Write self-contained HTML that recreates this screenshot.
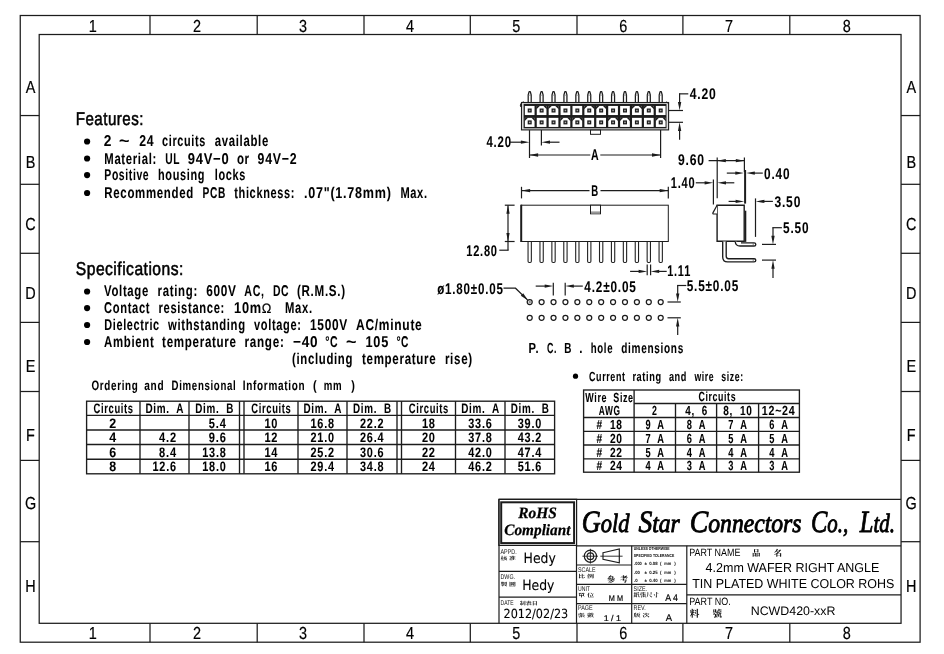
<!DOCTYPE html>
<html lang="en">
<head>
<meta charset="utf-8">
<title>NCWD420-xxR 4.2mm Wafer Right Angle</title>
<style>
html,body{margin:0;padding:0;background:#fff;}
body{width:944px;height:654px;overflow:hidden;}
svg{display:block;}
text{fill:#000;white-space:pre;text-rendering:geometricPrecision;}
.cad{font-family:"Liberation Sans",sans-serif;font-weight:bold;stroke:#000;stroke-width:0.06px;word-spacing:0.35em;letter-spacing:0.06em;}
.cadh{font-family:"Liberation Sans",sans-serif;stroke:#000;stroke-width:0.55px;letter-spacing:0.03em;}
.cadb{font-family:"Liberation Sans",sans-serif;font-weight:bold;stroke:#000;stroke-width:0.06px;word-spacing:0.35em;letter-spacing:0.07em;}
.lab{font-family:"Liberation Sans",sans-serif;stroke:#000;stroke-width:0.2px;}
.ar{font-family:"Liberation Sans",sans-serif;}
.sm{font-family:"Liberation Sans",sans-serif;fill:#111;}
.tiny{font-family:"Liberation Sans",sans-serif;font-weight:bold;fill:#000;}
.hand{font-family:"DejaVu Sans","Liberation Sans",sans-serif;stroke:#000;stroke-width:0.1px;}
.rohs{font-family:"Liberation Serif",serif;font-weight:bold;font-style:italic;stroke:#000;stroke-width:0.25px;}
.co{font-family:"Liberation Serif",serif;font-style:italic;font-size:26.5px;stroke:#000;stroke-width:0.9px;stroke-linejoin:round;}
.cjk2{font-family:"Liberation Serif","Noto Serif CJK SC","Noto Sans CJK TC",serif;fill:#000;font-weight:bold;}
.cjk{font-family:"Liberation Serif","Noto Serif CJK SC","Noto Sans CJK TC",serif;fill:#111;font-weight:bold;}
</style>
</head>
<body>
<svg width="944" height="654" viewBox="0 0 944 654" style="filter:grayscale(1)">
<rect x="0" y="0" width="944" height="654" fill="#fff"/>
<rect x="20.25" y="15.50" width="899.85" height="626.70" fill="none" stroke="#1c1c1c" stroke-width="1.25"/>
<rect x="39.20" y="34.50" width="861.85" height="588.80" fill="none" stroke="#1c1c1c" stroke-width="1.25"/>
<line x1="150.00" y1="15.50" x2="150.00" y2="34.50" stroke="#1c1c1c" stroke-width="1.25" />
<line x1="150.00" y1="623.30" x2="150.00" y2="642.20" stroke="#1c1c1c" stroke-width="1.25" />
<line x1="257.20" y1="15.50" x2="257.20" y2="34.50" stroke="#1c1c1c" stroke-width="1.25" />
<line x1="257.20" y1="623.30" x2="257.20" y2="642.20" stroke="#1c1c1c" stroke-width="1.25" />
<line x1="364.00" y1="15.50" x2="364.00" y2="34.50" stroke="#1c1c1c" stroke-width="1.25" />
<line x1="364.00" y1="623.30" x2="364.00" y2="642.20" stroke="#1c1c1c" stroke-width="1.25" />
<line x1="470.30" y1="15.50" x2="470.30" y2="34.50" stroke="#1c1c1c" stroke-width="1.25" />
<line x1="470.30" y1="623.30" x2="470.30" y2="642.20" stroke="#1c1c1c" stroke-width="1.25" />
<line x1="577.00" y1="15.50" x2="577.00" y2="34.50" stroke="#1c1c1c" stroke-width="1.25" />
<line x1="577.00" y1="623.30" x2="577.00" y2="642.20" stroke="#1c1c1c" stroke-width="1.25" />
<line x1="682.90" y1="15.50" x2="682.90" y2="34.50" stroke="#1c1c1c" stroke-width="1.25" />
<line x1="682.90" y1="623.30" x2="682.90" y2="642.20" stroke="#1c1c1c" stroke-width="1.25" />
<line x1="789.80" y1="15.50" x2="789.80" y2="34.50" stroke="#1c1c1c" stroke-width="1.25" />
<line x1="789.80" y1="623.30" x2="789.80" y2="642.20" stroke="#1c1c1c" stroke-width="1.25" />
<line x1="20.25" y1="115.55" x2="39.20" y2="115.55" stroke="#1c1c1c" stroke-width="1.25" />
<line x1="901.05" y1="115.55" x2="920.10" y2="115.55" stroke="#1c1c1c" stroke-width="1.25" />
<line x1="20.25" y1="184.30" x2="39.20" y2="184.30" stroke="#1c1c1c" stroke-width="1.25" />
<line x1="901.05" y1="184.30" x2="920.10" y2="184.30" stroke="#1c1c1c" stroke-width="1.25" />
<line x1="20.25" y1="253.30" x2="39.20" y2="253.30" stroke="#1c1c1c" stroke-width="1.25" />
<line x1="901.05" y1="253.30" x2="920.10" y2="253.30" stroke="#1c1c1c" stroke-width="1.25" />
<line x1="20.25" y1="322.40" x2="39.20" y2="322.40" stroke="#1c1c1c" stroke-width="1.25" />
<line x1="901.05" y1="322.40" x2="920.10" y2="322.40" stroke="#1c1c1c" stroke-width="1.25" />
<line x1="20.25" y1="391.50" x2="39.20" y2="391.50" stroke="#1c1c1c" stroke-width="1.25" />
<line x1="901.05" y1="391.50" x2="920.10" y2="391.50" stroke="#1c1c1c" stroke-width="1.25" />
<line x1="20.25" y1="460.40" x2="39.20" y2="460.40" stroke="#1c1c1c" stroke-width="1.25" />
<line x1="901.05" y1="460.40" x2="920.10" y2="460.40" stroke="#1c1c1c" stroke-width="1.25" />
<line x1="20.25" y1="541.70" x2="39.20" y2="541.70" stroke="#1c1c1c" stroke-width="1.25" />
<line x1="901.05" y1="541.70" x2="920.10" y2="541.70" stroke="#1c1c1c" stroke-width="1.25" />
<text class="lab" transform="translate(92.80,31.80) scale(0.83,1)" font-size="17.4" text-anchor="middle" >1</text>
<text class="lab" transform="translate(92.80,638.70) scale(0.83,1)" font-size="17.4" text-anchor="middle" >1</text>
<text class="lab" transform="translate(197.00,31.80) scale(0.83,1)" font-size="17.4" text-anchor="middle" >2</text>
<text class="lab" transform="translate(197.00,638.70) scale(0.83,1)" font-size="17.4" text-anchor="middle" >2</text>
<text class="lab" transform="translate(303.00,31.80) scale(0.83,1)" font-size="17.4" text-anchor="middle" >3</text>
<text class="lab" transform="translate(303.00,638.70) scale(0.83,1)" font-size="17.4" text-anchor="middle" >3</text>
<text class="lab" transform="translate(410.00,31.80) scale(0.83,1)" font-size="17.4" text-anchor="middle" >4</text>
<text class="lab" transform="translate(410.00,638.70) scale(0.83,1)" font-size="17.4" text-anchor="middle" >4</text>
<text class="lab" transform="translate(516.30,31.80) scale(0.83,1)" font-size="17.4" text-anchor="middle" >5</text>
<text class="lab" transform="translate(516.30,638.70) scale(0.83,1)" font-size="17.4" text-anchor="middle" >5</text>
<text class="lab" transform="translate(623.30,31.80) scale(0.83,1)" font-size="17.4" text-anchor="middle" >6</text>
<text class="lab" transform="translate(623.30,638.70) scale(0.83,1)" font-size="17.4" text-anchor="middle" >6</text>
<text class="lab" transform="translate(729.00,31.80) scale(0.83,1)" font-size="17.4" text-anchor="middle" >7</text>
<text class="lab" transform="translate(729.00,638.70) scale(0.83,1)" font-size="17.4" text-anchor="middle" >7</text>
<text class="lab" transform="translate(846.80,31.80) scale(0.83,1)" font-size="17.4" text-anchor="middle" >8</text>
<text class="lab" transform="translate(846.80,638.70) scale(0.83,1)" font-size="17.4" text-anchor="middle" >8</text>
<text class="lab" transform="translate(30.50,92.70) scale(0.83,1)" font-size="17.4" text-anchor="middle" >A</text>
<text class="lab" transform="translate(911.20,92.70) scale(0.83,1)" font-size="17.4" text-anchor="middle" >A</text>
<text class="lab" transform="translate(30.50,168.30) scale(0.83,1)" font-size="17.4" text-anchor="middle" >B</text>
<text class="lab" transform="translate(911.20,168.30) scale(0.83,1)" font-size="17.4" text-anchor="middle" >B</text>
<text class="lab" transform="translate(30.50,230.00) scale(0.83,1)" font-size="17.4" text-anchor="middle" >C</text>
<text class="lab" transform="translate(911.20,230.00) scale(0.83,1)" font-size="17.4" text-anchor="middle" >C</text>
<text class="lab" transform="translate(30.50,298.80) scale(0.83,1)" font-size="17.4" text-anchor="middle" >D</text>
<text class="lab" transform="translate(911.20,298.80) scale(0.83,1)" font-size="17.4" text-anchor="middle" >D</text>
<text class="lab" transform="translate(30.50,372.20) scale(0.83,1)" font-size="17.4" text-anchor="middle" >E</text>
<text class="lab" transform="translate(911.20,372.20) scale(0.83,1)" font-size="17.4" text-anchor="middle" >E</text>
<text class="lab" transform="translate(30.50,441.20) scale(0.83,1)" font-size="17.4" text-anchor="middle" >F</text>
<text class="lab" transform="translate(911.20,441.20) scale(0.83,1)" font-size="17.4" text-anchor="middle" >F</text>
<text class="lab" transform="translate(30.50,509.30) scale(0.83,1)" font-size="17.4" text-anchor="middle" >G</text>
<text class="lab" transform="translate(911.20,509.30) scale(0.83,1)" font-size="17.4" text-anchor="middle" >G</text>
<text class="lab" transform="translate(30.50,591.90) scale(0.83,1)" font-size="17.4" text-anchor="middle" >H</text>
<text class="lab" transform="translate(911.20,591.90) scale(0.83,1)" font-size="17.4" text-anchor="middle" >H</text>
<text class="cadh" x="75.80" y="125.00" font-size="18.6" textLength="68.02" lengthAdjust="spacingAndGlyphs" >Features:</text>
<text class="cad" y="146.20" font-size="15.6"><tspan x="103.78" textLength="8.46" lengthAdjust="spacingAndGlyphs">2</tspan> <tspan x="119.06" textLength="11.55" lengthAdjust="spacingAndGlyphs">~</tspan> <tspan x="139.30" textLength="15.10" lengthAdjust="spacingAndGlyphs">24</tspan> <tspan x="162.10" textLength="43.90" lengthAdjust="spacingAndGlyphs">circuits</tspan> <tspan x="214.70" textLength="54.20" lengthAdjust="spacingAndGlyphs">available</tspan></text>
<text class="cad" y="163.80" font-size="15.6"><tspan x="104.30" textLength="52.60" lengthAdjust="spacingAndGlyphs">Material:</tspan> <tspan x="165.20" textLength="14.70" lengthAdjust="spacingAndGlyphs">UL</tspan> <tspan x="187.70" textLength="41.80" lengthAdjust="spacingAndGlyphs">94V−0</tspan> <tspan x="236.90" textLength="12.90" lengthAdjust="spacingAndGlyphs">or</tspan> <tspan x="257.60" textLength="39.70" lengthAdjust="spacingAndGlyphs">94V−2</tspan></text>
<text class="cad" y="180.20" font-size="15.6"><tspan x="104.30" textLength="45.00" lengthAdjust="spacingAndGlyphs">Positive</tspan> <tspan x="158.00" textLength="47.10" lengthAdjust="spacingAndGlyphs">housing</tspan> <tspan x="214.70" textLength="31.20" lengthAdjust="spacingAndGlyphs">locks</tspan></text>
<text class="cad" y="198.00" font-size="15.6"><tspan x="104.30" textLength="89.70" lengthAdjust="spacingAndGlyphs">Recommended</tspan> <tspan x="202.60" textLength="23.30" lengthAdjust="spacingAndGlyphs">PCB</tspan> <tspan x="234.20" textLength="61.00" lengthAdjust="spacingAndGlyphs">thickness:</tspan> <tspan x="304.00" textLength="87.60" lengthAdjust="spacingAndGlyphs">.07"(1.78mm)</tspan> <tspan x="400.40" textLength="27.30" lengthAdjust="spacingAndGlyphs">Max.</tspan></text>
<circle cx="87.10" cy="141.50" r="3.10" fill="#000" stroke="none" stroke-width="1"/>
<circle cx="87.10" cy="158.50" r="3.10" fill="#000" stroke="none" stroke-width="1"/>
<circle cx="87.10" cy="175.10" r="3.10" fill="#000" stroke="none" stroke-width="1"/>
<circle cx="87.10" cy="193.00" r="3.10" fill="#000" stroke="none" stroke-width="1"/>
<text class="cadh" x="75.80" y="275.00" font-size="18.6" textLength="108.02" lengthAdjust="spacingAndGlyphs" >Specifications:</text>
<text class="cad" y="296.20" font-size="15.6"><tspan x="104.00" textLength="45.00" lengthAdjust="spacingAndGlyphs">Voltage</tspan> <tspan x="157.60" textLength="40.30" lengthAdjust="spacingAndGlyphs">rating:</tspan> <tspan x="206.20" textLength="30.50" lengthAdjust="spacingAndGlyphs">600V</tspan> <tspan x="244.30" textLength="20.30" lengthAdjust="spacingAndGlyphs">AC,</tspan> <tspan x="272.90" textLength="16.30" lengthAdjust="spacingAndGlyphs">DC</tspan> <tspan x="297.00" textLength="48.70" lengthAdjust="spacingAndGlyphs">(R.M.S.)</tspan></text>
<text class="cad" y="313.20" font-size="15.6"><tspan x="104.00" textLength="46.20" lengthAdjust="spacingAndGlyphs">Contact</tspan> <tspan x="158.50" textLength="66.50" lengthAdjust="spacingAndGlyphs">resistance:</tspan> <tspan x="234.00" textLength="27.90" lengthAdjust="spacingAndGlyphs">10m</tspan> <tspan x="285.00" textLength="27.70" lengthAdjust="spacingAndGlyphs">Max.</tspan></text>
<text class="cad" y="329.70" font-size="15.6"><tspan x="104.30" textLength="55.50" lengthAdjust="spacingAndGlyphs">Dielectric</tspan> <tspan x="168.10" textLength="77.60" lengthAdjust="spacingAndGlyphs">withstanding</tspan> <tspan x="254.00" textLength="47.50" lengthAdjust="spacingAndGlyphs">voltage:</tspan> <tspan x="310.00" textLength="37.90" lengthAdjust="spacingAndGlyphs">1500V</tspan> <tspan x="356.00" textLength="66.50" lengthAdjust="spacingAndGlyphs">AC/minute</tspan></text>
<text class="cad" y="347.00" font-size="15.6"><tspan x="104.00" textLength="50.40" lengthAdjust="spacingAndGlyphs">Ambient</tspan> <tspan x="162.10" textLength="74.60" lengthAdjust="spacingAndGlyphs">temperature</tspan> <tspan x="244.60" textLength="39.90" lengthAdjust="spacingAndGlyphs">range:</tspan> <tspan x="293.00" textLength="25.50" lengthAdjust="spacingAndGlyphs">−40</tspan> <tspan x="325.20" textLength="13.10" lengthAdjust="spacingAndGlyphs">°C</tspan> <tspan x="346.01" textLength="11.55" lengthAdjust="spacingAndGlyphs">~</tspan> <tspan x="365.50" textLength="23.50" lengthAdjust="spacingAndGlyphs">105</tspan> <tspan x="396.40" textLength="12.70" lengthAdjust="spacingAndGlyphs">°C</tspan></text>
<text class="cad" y="363.80" font-size="15.6"><tspan x="292.00" textLength="61.10" lengthAdjust="spacingAndGlyphs">(including</tspan> <tspan x="362.00" textLength="74.40" lengthAdjust="spacingAndGlyphs">temperature</tspan> <tspan x="444.90" textLength="28.00" lengthAdjust="spacingAndGlyphs">rise)</tspan></text>
<text class="lab" transform="translate(266.60,313.20) scale(0.95,1)" font-size="13.5" text-anchor="middle" >Ω</text>
<circle cx="87.10" cy="291.50" r="3.10" fill="#000" stroke="none" stroke-width="1"/>
<circle cx="87.10" cy="308.10" r="3.10" fill="#000" stroke="none" stroke-width="1"/>
<circle cx="87.10" cy="325.00" r="3.10" fill="#000" stroke="none" stroke-width="1"/>
<circle cx="87.10" cy="342.00" r="3.10" fill="#000" stroke="none" stroke-width="1"/>
<text class="cadb" y="390.00" font-size="13.6"><tspan x="91.50" textLength="47.01" lengthAdjust="spacingAndGlyphs">Ordering</tspan> <tspan x="144.30" textLength="20.01" lengthAdjust="spacingAndGlyphs">and</tspan> <tspan x="171.60" textLength="64.81" lengthAdjust="spacingAndGlyphs">Dimensional</tspan> <tspan x="242.80" textLength="62.41" lengthAdjust="spacingAndGlyphs">Information</tspan> <tspan x="313.09" textLength="4.38" lengthAdjust="spacingAndGlyphs">(</tspan> <tspan x="323.80" textLength="18.51" lengthAdjust="spacingAndGlyphs">mm</tspan> <tspan x="351.19" textLength="4.38" lengthAdjust="spacingAndGlyphs">)</tspan></text>
<rect x="86.60" y="401.20" width="468.00" height="72.60" fill="none" stroke="#1c1c1c" stroke-width="1.35"/>
<line x1="86.60" y1="415.40" x2="554.60" y2="415.40" stroke="#1c1c1c" stroke-width="1.35" />
<line x1="86.60" y1="430.00" x2="554.60" y2="430.00" stroke="#1c1c1c" stroke-width="1.35" />
<line x1="86.60" y1="444.50" x2="554.60" y2="444.50" stroke="#1c1c1c" stroke-width="1.35" />
<line x1="86.60" y1="459.20" x2="554.60" y2="459.20" stroke="#1c1c1c" stroke-width="1.35" />
<line x1="239.50" y1="401.20" x2="239.50" y2="473.80" stroke="#1c1c1c" stroke-width="1.35" />
<line x1="140.00" y1="401.20" x2="140.00" y2="473.80" stroke="#1c1c1c" stroke-width="1.35" />
<line x1="189.00" y1="401.20" x2="189.00" y2="473.80" stroke="#1c1c1c" stroke-width="1.35" />
<text class="cadb" x="113.61" y="413.00" font-size="13.7" text-anchor="middle" textLength="40.22" lengthAdjust="spacingAndGlyphs" >Circuits</text>
<text class="cadb" x="164.86" y="413.00" font-size="13.7" text-anchor="middle" textLength="38.72" lengthAdjust="spacingAndGlyphs" >Dim. A</text>
<text class="cadb" x="214.61" y="413.00" font-size="13.7" text-anchor="middle" textLength="38.72" lengthAdjust="spacingAndGlyphs" >Dim. B</text>
<text class="cadb" x="113.25" y="427.50" font-size="13.7" text-anchor="middle" textLength="7.80" lengthAdjust="spacingAndGlyphs" >2</text>
<text class="cadb" x="226.57" y="427.50" font-size="13.7" text-anchor="end" textLength="17.72" lengthAdjust="spacingAndGlyphs" >5.4</text>
<text class="cadb" x="113.25" y="442.00" font-size="13.7" text-anchor="middle" textLength="7.80" lengthAdjust="spacingAndGlyphs" >4</text>
<text class="cadb" x="176.82" y="442.00" font-size="13.7" text-anchor="end" textLength="17.72" lengthAdjust="spacingAndGlyphs" >4.2</text>
<text class="cadb" x="226.57" y="442.00" font-size="13.7" text-anchor="end" textLength="17.72" lengthAdjust="spacingAndGlyphs" >9.6</text>
<text class="cadb" x="113.25" y="456.70" font-size="13.7" text-anchor="middle" textLength="7.80" lengthAdjust="spacingAndGlyphs" >6</text>
<text class="cadb" x="176.82" y="456.70" font-size="13.7" text-anchor="end" textLength="17.72" lengthAdjust="spacingAndGlyphs" >8.4</text>
<text class="cadb" x="226.57" y="456.70" font-size="13.7" text-anchor="end" textLength="24.27" lengthAdjust="spacingAndGlyphs" >13.8</text>
<text class="cadb" x="113.25" y="471.30" font-size="13.7" text-anchor="middle" textLength="7.80" lengthAdjust="spacingAndGlyphs" >8</text>
<text class="cadb" x="176.82" y="471.30" font-size="13.7" text-anchor="end" textLength="24.27" lengthAdjust="spacingAndGlyphs" >12.6</text>
<text class="cadb" x="226.57" y="471.30" font-size="13.7" text-anchor="end" textLength="24.27" lengthAdjust="spacingAndGlyphs" >18.0</text>
<line x1="244.00" y1="401.20" x2="244.00" y2="473.80" stroke="#1c1c1c" stroke-width="1.35" />
<line x1="397.00" y1="401.20" x2="397.00" y2="473.80" stroke="#1c1c1c" stroke-width="1.35" />
<line x1="298.00" y1="401.20" x2="298.00" y2="473.80" stroke="#1c1c1c" stroke-width="1.35" />
<line x1="347.00" y1="401.20" x2="347.00" y2="473.80" stroke="#1c1c1c" stroke-width="1.35" />
<text class="cadb" x="271.36" y="413.00" font-size="13.7" text-anchor="middle" textLength="40.22" lengthAdjust="spacingAndGlyphs" >Circuits</text>
<text class="cadb" x="322.86" y="413.00" font-size="13.7" text-anchor="middle" textLength="38.72" lengthAdjust="spacingAndGlyphs" >Dim. A</text>
<text class="cadb" x="372.36" y="413.00" font-size="13.7" text-anchor="middle" textLength="38.72" lengthAdjust="spacingAndGlyphs" >Dim. B</text>
<text class="cadb" x="271.36" y="427.50" font-size="13.7" text-anchor="middle" textLength="13.82" lengthAdjust="spacingAndGlyphs" >10</text>
<text class="cadb" x="334.82" y="427.50" font-size="13.7" text-anchor="end" textLength="24.27" lengthAdjust="spacingAndGlyphs" >16.8</text>
<text class="cadb" x="384.32" y="427.50" font-size="13.7" text-anchor="end" textLength="24.27" lengthAdjust="spacingAndGlyphs" >22.2</text>
<text class="cadb" x="271.36" y="442.00" font-size="13.7" text-anchor="middle" textLength="13.82" lengthAdjust="spacingAndGlyphs" >12</text>
<text class="cadb" x="334.82" y="442.00" font-size="13.7" text-anchor="end" textLength="24.27" lengthAdjust="spacingAndGlyphs" >21.0</text>
<text class="cadb" x="384.32" y="442.00" font-size="13.7" text-anchor="end" textLength="24.27" lengthAdjust="spacingAndGlyphs" >26.4</text>
<text class="cadb" x="271.36" y="456.70" font-size="13.7" text-anchor="middle" textLength="13.82" lengthAdjust="spacingAndGlyphs" >14</text>
<text class="cadb" x="334.82" y="456.70" font-size="13.7" text-anchor="end" textLength="24.27" lengthAdjust="spacingAndGlyphs" >25.2</text>
<text class="cadb" x="384.32" y="456.70" font-size="13.7" text-anchor="end" textLength="24.27" lengthAdjust="spacingAndGlyphs" >30.6</text>
<text class="cadb" x="271.36" y="471.30" font-size="13.7" text-anchor="middle" textLength="13.82" lengthAdjust="spacingAndGlyphs" >16</text>
<text class="cadb" x="334.82" y="471.30" font-size="13.7" text-anchor="end" textLength="24.27" lengthAdjust="spacingAndGlyphs" >29.4</text>
<text class="cadb" x="384.32" y="471.30" font-size="13.7" text-anchor="end" textLength="24.27" lengthAdjust="spacingAndGlyphs" >34.8</text>
<line x1="401.50" y1="401.20" x2="401.50" y2="473.80" stroke="#1c1c1c" stroke-width="1.35" />
<line x1="455.50" y1="401.20" x2="455.50" y2="473.80" stroke="#1c1c1c" stroke-width="1.35" />
<line x1="505.00" y1="401.20" x2="505.00" y2="473.80" stroke="#1c1c1c" stroke-width="1.35" />
<text class="cadb" x="428.86" y="413.00" font-size="13.7" text-anchor="middle" textLength="40.22" lengthAdjust="spacingAndGlyphs" >Circuits</text>
<text class="cadb" x="480.61" y="413.00" font-size="13.7" text-anchor="middle" textLength="38.72" lengthAdjust="spacingAndGlyphs" >Dim. A</text>
<text class="cadb" x="530.11" y="413.00" font-size="13.7" text-anchor="middle" textLength="38.72" lengthAdjust="spacingAndGlyphs" >Dim. B</text>
<text class="cadb" x="428.86" y="427.50" font-size="13.7" text-anchor="middle" textLength="13.82" lengthAdjust="spacingAndGlyphs" >18</text>
<text class="cadb" x="492.57" y="427.50" font-size="13.7" text-anchor="end" textLength="24.27" lengthAdjust="spacingAndGlyphs" >33.6</text>
<text class="cadb" x="542.07" y="427.50" font-size="13.7" text-anchor="end" textLength="24.27" lengthAdjust="spacingAndGlyphs" >39.0</text>
<text class="cadb" x="428.86" y="442.00" font-size="13.7" text-anchor="middle" textLength="13.82" lengthAdjust="spacingAndGlyphs" >20</text>
<text class="cadb" x="492.57" y="442.00" font-size="13.7" text-anchor="end" textLength="24.27" lengthAdjust="spacingAndGlyphs" >37.8</text>
<text class="cadb" x="542.07" y="442.00" font-size="13.7" text-anchor="end" textLength="24.27" lengthAdjust="spacingAndGlyphs" >43.2</text>
<text class="cadb" x="428.86" y="456.70" font-size="13.7" text-anchor="middle" textLength="13.82" lengthAdjust="spacingAndGlyphs" >22</text>
<text class="cadb" x="492.57" y="456.70" font-size="13.7" text-anchor="end" textLength="24.27" lengthAdjust="spacingAndGlyphs" >42.0</text>
<text class="cadb" x="542.07" y="456.70" font-size="13.7" text-anchor="end" textLength="24.27" lengthAdjust="spacingAndGlyphs" >47.4</text>
<text class="cadb" x="428.86" y="471.30" font-size="13.7" text-anchor="middle" textLength="13.82" lengthAdjust="spacingAndGlyphs" >24</text>
<text class="cadb" x="492.57" y="471.30" font-size="13.7" text-anchor="end" textLength="24.27" lengthAdjust="spacingAndGlyphs" >46.2</text>
<text class="cadb" x="542.07" y="471.30" font-size="13.7" text-anchor="end" textLength="24.27" lengthAdjust="spacingAndGlyphs" >51.6</text>
<circle cx="575.50" cy="376.20" r="2.60" fill="#000" stroke="none" stroke-width="1"/>
<text class="cadb" y="380.70" font-size="13.2"><tspan x="589.00" textLength="36.59" lengthAdjust="spacingAndGlyphs">Current</tspan> <tspan x="632.40" textLength="29.39" lengthAdjust="spacingAndGlyphs">rating</tspan> <tspan x="668.90" textLength="18.19" lengthAdjust="spacingAndGlyphs">and</tspan> <tspan x="694.40" textLength="19.69" lengthAdjust="spacingAndGlyphs">wire</tspan> <tspan x="721.30" textLength="22.39" lengthAdjust="spacingAndGlyphs">size:</tspan></text>
<rect x="583.60" y="390.00" width="215.80" height="82.20" fill="none" stroke="#1c1c1c" stroke-width="1.35"/>
<line x1="634.10" y1="390.00" x2="634.10" y2="472.20" stroke="#1c1c1c" stroke-width="1.35" />
<line x1="675.50" y1="403.50" x2="675.50" y2="472.20" stroke="#1c1c1c" stroke-width="1.35" />
<line x1="716.60" y1="403.50" x2="716.60" y2="472.20" stroke="#1c1c1c" stroke-width="1.35" />
<line x1="758.60" y1="403.50" x2="758.60" y2="472.20" stroke="#1c1c1c" stroke-width="1.35" />
<line x1="634.10" y1="403.50" x2="799.40" y2="403.50" stroke="#1c1c1c" stroke-width="1.35" />
<line x1="583.60" y1="417.50" x2="799.40" y2="417.50" stroke="#1c1c1c" stroke-width="1.35" />
<line x1="583.60" y1="431.30" x2="799.40" y2="431.30" stroke="#1c1c1c" stroke-width="1.35" />
<line x1="583.60" y1="445.00" x2="799.40" y2="445.00" stroke="#1c1c1c" stroke-width="1.35" />
<line x1="583.60" y1="458.80" x2="799.40" y2="458.80" stroke="#1c1c1c" stroke-width="1.35" />
<text class="cadb" x="585.30" y="401.50" font-size="13.1" textLength="48.39" lengthAdjust="spacingAndGlyphs" >Wire Size</text>
<text class="cadb" x="609.64" y="415.20" font-size="13.1" text-anchor="middle" textLength="21.69" lengthAdjust="spacingAndGlyphs" >AWG</text>
<text class="cadb" x="717.34" y="401.20" font-size="13.1" text-anchor="middle" textLength="37.69" lengthAdjust="spacingAndGlyphs" >Circuits</text>
<text class="cadb" x="654.80" y="415.20" font-size="13.1" text-anchor="middle" textLength="5.50" lengthAdjust="spacingAndGlyphs" >2</text>
<text class="cadb" x="696.64" y="415.20" font-size="13.1" text-anchor="middle" textLength="22.69" lengthAdjust="spacingAndGlyphs" >4, 6</text>
<text class="cadb" x="737.84" y="415.20" font-size="13.1" text-anchor="middle" textLength="29.39" lengthAdjust="spacingAndGlyphs" >8, 10</text>
<text class="cadb" x="778.64" y="415.20" font-size="13.1" text-anchor="middle" textLength="33.69" lengthAdjust="spacingAndGlyphs" >12~24</text>
<text class="cadb" x="609.54" y="429.30" font-size="13.1" text-anchor="middle" textLength="26.19" lengthAdjust="spacingAndGlyphs" ># 18</text>
<text class="cadb" x="655.04" y="429.30" font-size="13.1" text-anchor="middle" textLength="19.29" lengthAdjust="spacingAndGlyphs" >9 A</text>
<text class="cadb" x="696.44" y="429.30" font-size="13.1" text-anchor="middle" textLength="19.29" lengthAdjust="spacingAndGlyphs" >8 A</text>
<text class="cadb" x="737.94" y="429.30" font-size="13.1" text-anchor="middle" textLength="19.29" lengthAdjust="spacingAndGlyphs" >7 A</text>
<text class="cadb" x="778.94" y="429.30" font-size="13.1" text-anchor="middle" textLength="19.29" lengthAdjust="spacingAndGlyphs" >6 A</text>
<text class="cadb" x="609.54" y="443.00" font-size="13.1" text-anchor="middle" textLength="26.19" lengthAdjust="spacingAndGlyphs" ># 20</text>
<text class="cadb" x="655.04" y="443.00" font-size="13.1" text-anchor="middle" textLength="19.29" lengthAdjust="spacingAndGlyphs" >7 A</text>
<text class="cadb" x="696.44" y="443.00" font-size="13.1" text-anchor="middle" textLength="19.29" lengthAdjust="spacingAndGlyphs" >6 A</text>
<text class="cadb" x="737.94" y="443.00" font-size="13.1" text-anchor="middle" textLength="19.29" lengthAdjust="spacingAndGlyphs" >5 A</text>
<text class="cadb" x="778.94" y="443.00" font-size="13.1" text-anchor="middle" textLength="19.29" lengthAdjust="spacingAndGlyphs" >5 A</text>
<text class="cadb" x="609.54" y="456.80" font-size="13.1" text-anchor="middle" textLength="26.19" lengthAdjust="spacingAndGlyphs" ># 22</text>
<text class="cadb" x="655.04" y="456.80" font-size="13.1" text-anchor="middle" textLength="19.29" lengthAdjust="spacingAndGlyphs" >5 A</text>
<text class="cadb" x="696.44" y="456.80" font-size="13.1" text-anchor="middle" textLength="19.29" lengthAdjust="spacingAndGlyphs" >4 A</text>
<text class="cadb" x="737.94" y="456.80" font-size="13.1" text-anchor="middle" textLength="19.29" lengthAdjust="spacingAndGlyphs" >4 A</text>
<text class="cadb" x="778.94" y="456.80" font-size="13.1" text-anchor="middle" textLength="19.29" lengthAdjust="spacingAndGlyphs" >4 A</text>
<text class="cadb" x="609.54" y="470.20" font-size="13.1" text-anchor="middle" textLength="26.19" lengthAdjust="spacingAndGlyphs" ># 24</text>
<text class="cadb" x="655.04" y="470.20" font-size="13.1" text-anchor="middle" textLength="19.29" lengthAdjust="spacingAndGlyphs" >4 A</text>
<text class="cadb" x="696.44" y="470.20" font-size="13.1" text-anchor="middle" textLength="19.29" lengthAdjust="spacingAndGlyphs" >3 A</text>
<text class="cadb" x="737.94" y="470.20" font-size="13.1" text-anchor="middle" textLength="19.29" lengthAdjust="spacingAndGlyphs" >3 A</text>
<text class="cadb" x="778.94" y="470.20" font-size="13.1" text-anchor="middle" textLength="19.29" lengthAdjust="spacingAndGlyphs" >3 A</text>
<path d="M528.20,102.5 V95 L529.10,91.7 H530.30 L531.20,95 V102.5" fill="#fff" stroke="#1c1c1c" stroke-width="1.25" stroke-linejoin="round"/>
<line x1="528.20" y1="95.20" x2="531.20" y2="95.20" stroke="#666" stroke-width="0.6" />
<path d="M540.11,102.5 V95 L541.01,91.7 H542.21 L543.11,95 V102.5" fill="#fff" stroke="#1c1c1c" stroke-width="1.25" stroke-linejoin="round"/>
<line x1="540.11" y1="95.20" x2="543.11" y2="95.20" stroke="#666" stroke-width="0.6" />
<path d="M552.02,102.5 V95 L552.92,91.7 H554.12 L555.02,95 V102.5" fill="#fff" stroke="#1c1c1c" stroke-width="1.25" stroke-linejoin="round"/>
<line x1="552.02" y1="95.20" x2="555.02" y2="95.20" stroke="#666" stroke-width="0.6" />
<path d="M563.93,102.5 V95 L564.83,91.7 H566.03 L566.93,95 V102.5" fill="#fff" stroke="#1c1c1c" stroke-width="1.25" stroke-linejoin="round"/>
<line x1="563.93" y1="95.20" x2="566.93" y2="95.20" stroke="#666" stroke-width="0.6" />
<path d="M575.84,102.5 V95 L576.74,91.7 H577.94 L578.84,95 V102.5" fill="#fff" stroke="#1c1c1c" stroke-width="1.25" stroke-linejoin="round"/>
<line x1="575.84" y1="95.20" x2="578.84" y2="95.20" stroke="#666" stroke-width="0.6" />
<path d="M587.75,102.5 V95 L588.65,91.7 H589.85 L590.75,95 V102.5" fill="#fff" stroke="#1c1c1c" stroke-width="1.25" stroke-linejoin="round"/>
<line x1="587.75" y1="95.20" x2="590.75" y2="95.20" stroke="#666" stroke-width="0.6" />
<path d="M599.66,102.5 V95 L600.56,91.7 H601.76 L602.66,95 V102.5" fill="#fff" stroke="#1c1c1c" stroke-width="1.25" stroke-linejoin="round"/>
<line x1="599.66" y1="95.20" x2="602.66" y2="95.20" stroke="#666" stroke-width="0.6" />
<path d="M611.57,102.5 V95 L612.47,91.7 H613.67 L614.57,95 V102.5" fill="#fff" stroke="#1c1c1c" stroke-width="1.25" stroke-linejoin="round"/>
<line x1="611.57" y1="95.20" x2="614.57" y2="95.20" stroke="#666" stroke-width="0.6" />
<path d="M623.48,102.5 V95 L624.38,91.7 H625.58 L626.48,95 V102.5" fill="#fff" stroke="#1c1c1c" stroke-width="1.25" stroke-linejoin="round"/>
<line x1="623.48" y1="95.20" x2="626.48" y2="95.20" stroke="#666" stroke-width="0.6" />
<path d="M635.39,102.5 V95 L636.29,91.7 H637.49 L638.39,95 V102.5" fill="#fff" stroke="#1c1c1c" stroke-width="1.25" stroke-linejoin="round"/>
<line x1="635.39" y1="95.20" x2="638.39" y2="95.20" stroke="#666" stroke-width="0.6" />
<path d="M647.30,102.5 V95 L648.20,91.7 H649.40 L650.30,95 V102.5" fill="#fff" stroke="#1c1c1c" stroke-width="1.25" stroke-linejoin="round"/>
<line x1="647.30" y1="95.20" x2="650.30" y2="95.20" stroke="#666" stroke-width="0.6" />
<path d="M659.21,102.5 V95 L660.11,91.7 H661.31 L662.21,95 V102.5" fill="#fff" stroke="#1c1c1c" stroke-width="1.25" stroke-linejoin="round"/>
<line x1="659.21" y1="95.20" x2="662.21" y2="95.20" stroke="#666" stroke-width="0.6" />
<rect x="521.50" y="102.50" width="147.10" height="27.40" fill="#ddd" stroke="#1c1c1c" stroke-width="1.1"/>
<path d="M521.5,107.5 L520.3,106 L520.8,103.6 L523.5,101.6" fill="none" stroke="#1c1c1c" stroke-width="1" />
<path d="M668.6,104 L666.6,101.6" fill="none" stroke="#1c1c1c" stroke-width="1" />
<rect x="523.6" y="103.9" width="142.9" height="24.4" fill="#1c1c1c"/>
<rect x="524.85" y="105.95" width="9.70" height="9.10" fill="#fff"/>
<rect x="527.70" y="108.50" width="4.0" height="4.0" fill="#1c1c1c"/>
<rect x="528.95" y="109.75" width="1.5" height="1.5" fill="#aaa"/>
<rect x="536.76" y="105.95" width="9.70" height="9.10" fill="#fff"/>
<polygon points="536.46,109.25 536.46,106.85 537.66,105.65 540.06,105.65" fill="#1c1c1c" stroke="none" stroke-width="1"/>
<polygon points="546.76,109.25 546.76,106.85 545.56,105.65 543.16,105.65" fill="#1c1c1c" stroke="none" stroke-width="1"/>
<rect x="539.61" y="108.50" width="4.0" height="4.0" fill="#1c1c1c"/>
<rect x="540.86" y="109.75" width="1.5" height="1.5" fill="#aaa"/>
<rect x="548.67" y="105.95" width="9.70" height="9.10" fill="#fff"/>
<polygon points="548.37,109.25 548.37,106.85 549.57,105.65 551.97,105.65" fill="#1c1c1c" stroke="none" stroke-width="1"/>
<polygon points="558.67,109.25 558.67,106.85 557.47,105.65 555.07,105.65" fill="#1c1c1c" stroke="none" stroke-width="1"/>
<rect x="551.52" y="108.50" width="4.0" height="4.0" fill="#1c1c1c"/>
<rect x="552.77" y="109.75" width="1.5" height="1.5" fill="#aaa"/>
<rect x="560.58" y="105.95" width="9.70" height="9.10" fill="#fff"/>
<rect x="563.43" y="108.50" width="4.0" height="4.0" fill="#1c1c1c"/>
<rect x="564.68" y="109.75" width="1.5" height="1.5" fill="#aaa"/>
<rect x="572.49" y="105.95" width="9.70" height="9.10" fill="#fff"/>
<rect x="575.34" y="108.50" width="4.0" height="4.0" fill="#1c1c1c"/>
<rect x="576.59" y="109.75" width="1.5" height="1.5" fill="#aaa"/>
<rect x="584.40" y="105.95" width="9.70" height="9.10" fill="#fff"/>
<polygon points="584.10,109.25 584.10,106.85 585.30,105.65 587.70,105.65" fill="#1c1c1c" stroke="none" stroke-width="1"/>
<polygon points="594.40,109.25 594.40,106.85 593.20,105.65 590.80,105.65" fill="#1c1c1c" stroke="none" stroke-width="1"/>
<rect x="587.25" y="108.50" width="4.0" height="4.0" fill="#1c1c1c"/>
<rect x="588.50" y="109.75" width="1.5" height="1.5" fill="#aaa"/>
<rect x="596.31" y="105.95" width="9.70" height="9.10" fill="#fff"/>
<polygon points="596.01,109.25 596.01,106.85 597.21,105.65 599.61,105.65" fill="#1c1c1c" stroke="none" stroke-width="1"/>
<polygon points="606.31,109.25 606.31,106.85 605.11,105.65 602.71,105.65" fill="#1c1c1c" stroke="none" stroke-width="1"/>
<rect x="599.16" y="108.50" width="4.0" height="4.0" fill="#1c1c1c"/>
<rect x="600.41" y="109.75" width="1.5" height="1.5" fill="#aaa"/>
<rect x="608.22" y="105.95" width="9.70" height="9.10" fill="#fff"/>
<rect x="611.07" y="108.50" width="4.0" height="4.0" fill="#1c1c1c"/>
<rect x="612.32" y="109.75" width="1.5" height="1.5" fill="#aaa"/>
<rect x="620.13" y="105.95" width="9.70" height="9.10" fill="#fff"/>
<rect x="622.98" y="108.50" width="4.0" height="4.0" fill="#1c1c1c"/>
<rect x="624.23" y="109.75" width="1.5" height="1.5" fill="#aaa"/>
<rect x="632.04" y="105.95" width="9.70" height="9.10" fill="#fff"/>
<polygon points="631.74,109.25 631.74,106.85 632.94,105.65 635.34,105.65" fill="#1c1c1c" stroke="none" stroke-width="1"/>
<polygon points="642.04,109.25 642.04,106.85 640.84,105.65 638.44,105.65" fill="#1c1c1c" stroke="none" stroke-width="1"/>
<rect x="634.89" y="108.50" width="4.0" height="4.0" fill="#1c1c1c"/>
<rect x="636.14" y="109.75" width="1.5" height="1.5" fill="#aaa"/>
<rect x="643.95" y="105.95" width="9.70" height="9.10" fill="#fff"/>
<polygon points="643.65,109.25 643.65,106.85 644.85,105.65 647.25,105.65" fill="#1c1c1c" stroke="none" stroke-width="1"/>
<polygon points="653.95,109.25 653.95,106.85 652.75,105.65 650.35,105.65" fill="#1c1c1c" stroke="none" stroke-width="1"/>
<rect x="646.80" y="108.50" width="4.0" height="4.0" fill="#1c1c1c"/>
<rect x="648.05" y="109.75" width="1.5" height="1.5" fill="#aaa"/>
<rect x="655.86" y="105.95" width="9.70" height="9.10" fill="#fff"/>
<rect x="658.71" y="108.50" width="4.0" height="4.0" fill="#1c1c1c"/>
<rect x="659.96" y="109.75" width="1.5" height="1.5" fill="#aaa"/>
<rect x="524.85" y="117.85" width="9.70" height="9.10" fill="#fff"/>
<polygon points="524.55,121.15 524.55,118.75 525.75,117.55 528.15,117.55" fill="#1c1c1c" stroke="none" stroke-width="1"/>
<polygon points="534.85,121.15 534.85,118.75 533.65,117.55 531.25,117.55" fill="#1c1c1c" stroke="none" stroke-width="1"/>
<rect x="527.70" y="120.40" width="4.0" height="4.0" fill="#1c1c1c"/>
<rect x="528.95" y="121.65" width="1.5" height="1.5" fill="#aaa"/>
<rect x="536.76" y="117.85" width="9.70" height="9.10" fill="#fff"/>
<rect x="539.61" y="120.40" width="4.0" height="4.0" fill="#1c1c1c"/>
<rect x="540.86" y="121.65" width="1.5" height="1.5" fill="#aaa"/>
<rect x="548.67" y="117.85" width="9.70" height="9.10" fill="#fff"/>
<rect x="551.52" y="120.40" width="4.0" height="4.0" fill="#1c1c1c"/>
<rect x="552.77" y="121.65" width="1.5" height="1.5" fill="#aaa"/>
<rect x="560.58" y="117.85" width="9.70" height="9.10" fill="#fff"/>
<polygon points="560.28,121.15 560.28,118.75 561.48,117.55 563.88,117.55" fill="#1c1c1c" stroke="none" stroke-width="1"/>
<polygon points="570.58,121.15 570.58,118.75 569.38,117.55 566.98,117.55" fill="#1c1c1c" stroke="none" stroke-width="1"/>
<rect x="563.43" y="120.40" width="4.0" height="4.0" fill="#1c1c1c"/>
<rect x="564.68" y="121.65" width="1.5" height="1.5" fill="#aaa"/>
<rect x="572.49" y="117.85" width="9.70" height="9.10" fill="#fff"/>
<polygon points="572.19,121.15 572.19,118.75 573.39,117.55 575.79,117.55" fill="#1c1c1c" stroke="none" stroke-width="1"/>
<polygon points="582.49,121.15 582.49,118.75 581.29,117.55 578.89,117.55" fill="#1c1c1c" stroke="none" stroke-width="1"/>
<rect x="575.34" y="120.40" width="4.0" height="4.0" fill="#1c1c1c"/>
<rect x="576.59" y="121.65" width="1.5" height="1.5" fill="#aaa"/>
<rect x="584.40" y="117.85" width="9.70" height="9.10" fill="#fff"/>
<rect x="587.25" y="120.40" width="4.0" height="4.0" fill="#1c1c1c"/>
<rect x="588.50" y="121.65" width="1.5" height="1.5" fill="#aaa"/>
<rect x="596.31" y="117.85" width="9.70" height="9.10" fill="#fff"/>
<rect x="599.16" y="120.40" width="4.0" height="4.0" fill="#1c1c1c"/>
<rect x="600.41" y="121.65" width="1.5" height="1.5" fill="#aaa"/>
<rect x="608.22" y="117.85" width="9.70" height="9.10" fill="#fff"/>
<polygon points="607.92,121.15 607.92,118.75 609.12,117.55 611.52,117.55" fill="#1c1c1c" stroke="none" stroke-width="1"/>
<polygon points="618.22,121.15 618.22,118.75 617.02,117.55 614.62,117.55" fill="#1c1c1c" stroke="none" stroke-width="1"/>
<rect x="611.07" y="120.40" width="4.0" height="4.0" fill="#1c1c1c"/>
<rect x="612.32" y="121.65" width="1.5" height="1.5" fill="#aaa"/>
<rect x="620.13" y="117.85" width="9.70" height="9.10" fill="#fff"/>
<polygon points="619.83,121.15 619.83,118.75 621.03,117.55 623.43,117.55" fill="#1c1c1c" stroke="none" stroke-width="1"/>
<polygon points="630.13,121.15 630.13,118.75 628.93,117.55 626.53,117.55" fill="#1c1c1c" stroke="none" stroke-width="1"/>
<rect x="622.98" y="120.40" width="4.0" height="4.0" fill="#1c1c1c"/>
<rect x="624.23" y="121.65" width="1.5" height="1.5" fill="#aaa"/>
<rect x="632.04" y="117.85" width="9.70" height="9.10" fill="#fff"/>
<rect x="634.89" y="120.40" width="4.0" height="4.0" fill="#1c1c1c"/>
<rect x="636.14" y="121.65" width="1.5" height="1.5" fill="#aaa"/>
<rect x="643.95" y="117.85" width="9.70" height="9.10" fill="#fff"/>
<rect x="646.80" y="120.40" width="4.0" height="4.0" fill="#1c1c1c"/>
<rect x="648.05" y="121.65" width="1.5" height="1.5" fill="#aaa"/>
<rect x="655.86" y="117.85" width="9.70" height="9.10" fill="#fff"/>
<polygon points="655.56,121.15 655.56,118.75 656.76,117.55 659.16,117.55" fill="#1c1c1c" stroke="none" stroke-width="1"/>
<polygon points="665.86,121.15 665.86,118.75 664.66,117.55 662.26,117.55" fill="#1c1c1c" stroke="none" stroke-width="1"/>
<rect x="658.71" y="120.40" width="4.0" height="4.0" fill="#1c1c1c"/>
<rect x="659.96" y="121.65" width="1.5" height="1.5" fill="#aaa"/>
<rect x="590.50" y="130.10" width="10.00" height="4.20" fill="#fff" stroke="#1c1c1c" stroke-width="1"/>
<line x1="668.70" y1="110.50" x2="683.00" y2="110.50" stroke="#1c1c1c" stroke-width="1.2" />
<line x1="668.70" y1="122.30" x2="683.00" y2="122.30" stroke="#1c1c1c" stroke-width="1.2" />
<polygon points="679.60,110.50 677.95,101.90 681.25,101.90" fill="#1c1c1c" stroke="none" stroke-width="1"/>
<line x1="679.60" y1="93.40" x2="679.60" y2="102.90" stroke="#1c1c1c" stroke-width="1.2" />
<line x1="679.00" y1="93.85" x2="688.30" y2="93.85" stroke="#1c1c1c" stroke-width="1.2" />
<polygon points="679.60,122.30 677.95,130.90 681.25,130.90" fill="#1c1c1c" stroke="none" stroke-width="1"/>
<line x1="679.60" y1="129.90" x2="679.60" y2="139.70" stroke="#1c1c1c" stroke-width="1.2" />
<text class="cadb" x="689.70" y="99.00" font-size="15.5" textLength="27.01" lengthAdjust="spacingAndGlyphs" >4.20</text>
<text class="cadb" x="486.40" y="146.80" font-size="15.5" textLength="25.41" lengthAdjust="spacingAndGlyphs" >4.20</text>
<line x1="529.50" y1="130.10" x2="529.50" y2="158.00" stroke="#1c1c1c" stroke-width="1.2" />
<line x1="541.40" y1="130.10" x2="541.40" y2="145.50" stroke="#1c1c1c" stroke-width="1.2" />
<line x1="660.60" y1="130.10" x2="660.60" y2="158.00" stroke="#1c1c1c" stroke-width="1.2" />
<polygon points="529.50,142.20 520.90,140.55 520.90,143.85" fill="#1c1c1c" stroke="none" stroke-width="1"/>
<line x1="509.90" y1="142.20" x2="521.90" y2="142.20" stroke="#1c1c1c" stroke-width="1.2" />
<polygon points="541.40,142.20 550.00,140.55 550.00,143.85" fill="#1c1c1c" stroke="none" stroke-width="1"/>
<line x1="549.00" y1="142.20" x2="559.50" y2="142.20" stroke="#1c1c1c" stroke-width="1.2" />
<polygon points="529.50,155.00 538.10,153.35 538.10,156.65" fill="#1c1c1c" stroke="none" stroke-width="1"/>
<polygon points="660.60,155.00 652.00,153.35 652.00,156.65" fill="#1c1c1c" stroke="none" stroke-width="1"/>
<line x1="529.50" y1="155.00" x2="590.30" y2="155.00" stroke="#1c1c1c" stroke-width="1.2" />
<line x1="600.30" y1="155.00" x2="660.60" y2="155.00" stroke="#1c1c1c" stroke-width="1.2" />
<text class="cadb" x="595.20" y="160.10" font-size="15.5" text-anchor="middle" textLength="8.40" lengthAdjust="spacingAndGlyphs" >A</text>
<path d="M528.05,241.5 V261.3 Q528.05,262.5 529.20,262.5 H530.20 Q531.35,262.5 531.35,261.3 V241.5" fill="#fff" stroke="#222" stroke-width="1.1" />
<path d="M539.96,241.5 V261.3 Q539.96,262.5 541.11,262.5 H542.11 Q543.26,262.5 543.26,261.3 V241.5" fill="#fff" stroke="#222" stroke-width="1.1" />
<path d="M551.87,241.5 V261.3 Q551.87,262.5 553.02,262.5 H554.02 Q555.17,262.5 555.17,261.3 V241.5" fill="#fff" stroke="#222" stroke-width="1.1" />
<path d="M563.78,241.5 V261.3 Q563.78,262.5 564.93,262.5 H565.93 Q567.08,262.5 567.08,261.3 V241.5" fill="#fff" stroke="#222" stroke-width="1.1" />
<path d="M575.69,241.5 V261.3 Q575.69,262.5 576.84,262.5 H577.84 Q578.99,262.5 578.99,261.3 V241.5" fill="#fff" stroke="#222" stroke-width="1.1" />
<path d="M587.60,241.5 V261.3 Q587.60,262.5 588.75,262.5 H589.75 Q590.90,262.5 590.90,261.3 V241.5" fill="#fff" stroke="#222" stroke-width="1.1" />
<path d="M599.51,241.5 V261.3 Q599.51,262.5 600.66,262.5 H601.66 Q602.81,262.5 602.81,261.3 V241.5" fill="#fff" stroke="#222" stroke-width="1.1" />
<path d="M611.42,241.5 V261.3 Q611.42,262.5 612.57,262.5 H613.57 Q614.72,262.5 614.72,261.3 V241.5" fill="#fff" stroke="#222" stroke-width="1.1" />
<path d="M623.33,241.5 V261.3 Q623.33,262.5 624.48,262.5 H625.48 Q626.63,262.5 626.63,261.3 V241.5" fill="#fff" stroke="#222" stroke-width="1.1" />
<path d="M635.24,241.5 V261.3 Q635.24,262.5 636.39,262.5 H637.39 Q638.54,262.5 638.54,261.3 V241.5" fill="#fff" stroke="#222" stroke-width="1.1" />
<path d="M647.15,241.5 V261.3 Q647.15,262.5 648.30,262.5 H649.30 Q650.45,262.5 650.45,261.3 V241.5" fill="#fff" stroke="#222" stroke-width="1.1" />
<path d="M659.06,241.5 V261.3 Q659.06,262.5 660.21,262.5 H661.21 Q662.36,262.5 662.36,261.3 V241.5" fill="#fff" stroke="#222" stroke-width="1.1" />
<rect x="521.50" y="205.20" width="146.80" height="36.30" fill="#fff" stroke="#1c1c1c" stroke-width="1"/>
<line x1="521.20" y1="204.70" x2="521.20" y2="242.00" stroke="#1c1c1c" stroke-width="2" />
<rect x="590.50" y="205.20" width="10.00" height="8.60" fill="#fff" stroke="#1c1c1c" stroke-width="1"/>
<rect x="591" y="211.4" width="9" height="2.2" fill="#999"/>
<line x1="521.50" y1="186.80" x2="521.50" y2="198.40" stroke="#1c1c1c" stroke-width="1.2" />
<line x1="668.30" y1="186.80" x2="668.30" y2="198.40" stroke="#1c1c1c" stroke-width="1.2" />
<polygon points="521.50,190.60 530.10,188.95 530.10,192.25" fill="#1c1c1c" stroke="none" stroke-width="1"/>
<polygon points="668.30,190.60 659.70,188.95 659.70,192.25" fill="#1c1c1c" stroke="none" stroke-width="1"/>
<line x1="521.50" y1="190.60" x2="589.50" y2="190.60" stroke="#1c1c1c" stroke-width="1.2" />
<line x1="600.50" y1="190.60" x2="668.30" y2="190.60" stroke="#1c1c1c" stroke-width="1.2" />
<text class="cadb" x="595.00" y="196.00" font-size="15.5" text-anchor="middle" textLength="7.60" lengthAdjust="spacingAndGlyphs" >B</text>
<line x1="504.80" y1="205.20" x2="514.60" y2="205.20" stroke="#1c1c1c" stroke-width="1.2" />
<line x1="504.80" y1="241.50" x2="514.60" y2="241.50" stroke="#1c1c1c" stroke-width="1.2" />
<polygon points="508.00,205.20 506.35,213.80 509.65,213.80" fill="#1c1c1c" stroke="none" stroke-width="1"/>
<polygon points="508.00,241.50 506.35,232.90 509.65,232.90" fill="#1c1c1c" stroke="none" stroke-width="1"/>
<line x1="508.00" y1="205.20" x2="508.00" y2="250.20" stroke="#1c1c1c" stroke-width="1.2" />
<line x1="499.30" y1="250.20" x2="508.60" y2="250.20" stroke="#1c1c1c" stroke-width="1.2" />
<text class="cadb" x="497.81" y="256.00" font-size="15.5" text-anchor="end" textLength="31.61" lengthAdjust="spacingAndGlyphs" >12.80</text>
<line x1="647.20" y1="264.40" x2="647.20" y2="275.20" stroke="#1c1c1c" stroke-width="1.2" />
<line x1="650.60" y1="264.40" x2="650.60" y2="275.20" stroke="#1c1c1c" stroke-width="1.2" />
<polygon points="647.20,271.40 638.60,269.75 638.60,273.05" fill="#1c1c1c" stroke="none" stroke-width="1"/>
<line x1="630.10" y1="271.40" x2="639.60" y2="271.40" stroke="#1c1c1c" stroke-width="1.2" />
<polygon points="650.60,271.40 659.20,269.75 659.20,273.05" fill="#1c1c1c" stroke="none" stroke-width="1"/>
<line x1="658.20" y1="271.40" x2="666.70" y2="271.40" stroke="#1c1c1c" stroke-width="1.2" />
<text class="cadb" x="667.20" y="276.40" font-size="15.5" textLength="23.81" lengthAdjust="spacingAndGlyphs" >1.11</text>
<circle cx="529.70" cy="302.05" r="2.50" fill="none" stroke="#1c1c1c" stroke-width="1.25"/>
<circle cx="529.70" cy="317.75" r="2.50" fill="none" stroke="#1c1c1c" stroke-width="1.25"/>
<circle cx="541.61" cy="302.05" r="2.50" fill="none" stroke="#1c1c1c" stroke-width="1.25"/>
<circle cx="541.61" cy="317.75" r="2.50" fill="none" stroke="#1c1c1c" stroke-width="1.25"/>
<circle cx="553.52" cy="302.05" r="2.50" fill="none" stroke="#1c1c1c" stroke-width="1.25"/>
<circle cx="553.52" cy="317.75" r="2.50" fill="none" stroke="#1c1c1c" stroke-width="1.25"/>
<circle cx="565.43" cy="302.05" r="2.50" fill="none" stroke="#1c1c1c" stroke-width="1.25"/>
<circle cx="565.43" cy="317.75" r="2.50" fill="none" stroke="#1c1c1c" stroke-width="1.25"/>
<circle cx="577.34" cy="302.05" r="2.50" fill="none" stroke="#1c1c1c" stroke-width="1.25"/>
<circle cx="577.34" cy="317.75" r="2.50" fill="none" stroke="#1c1c1c" stroke-width="1.25"/>
<circle cx="589.25" cy="302.05" r="2.50" fill="none" stroke="#1c1c1c" stroke-width="1.25"/>
<circle cx="589.25" cy="317.75" r="2.50" fill="none" stroke="#1c1c1c" stroke-width="1.25"/>
<circle cx="601.16" cy="302.05" r="2.50" fill="none" stroke="#1c1c1c" stroke-width="1.25"/>
<circle cx="601.16" cy="317.75" r="2.50" fill="none" stroke="#1c1c1c" stroke-width="1.25"/>
<circle cx="613.07" cy="302.05" r="2.50" fill="none" stroke="#1c1c1c" stroke-width="1.25"/>
<circle cx="613.07" cy="317.75" r="2.50" fill="none" stroke="#1c1c1c" stroke-width="1.25"/>
<circle cx="624.98" cy="302.05" r="2.50" fill="none" stroke="#1c1c1c" stroke-width="1.25"/>
<circle cx="624.98" cy="317.75" r="2.50" fill="none" stroke="#1c1c1c" stroke-width="1.25"/>
<circle cx="636.89" cy="302.05" r="2.50" fill="none" stroke="#1c1c1c" stroke-width="1.25"/>
<circle cx="636.89" cy="317.75" r="2.50" fill="none" stroke="#1c1c1c" stroke-width="1.25"/>
<circle cx="648.80" cy="302.05" r="2.50" fill="none" stroke="#1c1c1c" stroke-width="1.25"/>
<circle cx="648.80" cy="317.75" r="2.50" fill="none" stroke="#1c1c1c" stroke-width="1.25"/>
<circle cx="660.71" cy="302.05" r="2.50" fill="none" stroke="#1c1c1c" stroke-width="1.25"/>
<circle cx="660.71" cy="317.75" r="2.50" fill="none" stroke="#1c1c1c" stroke-width="1.25"/>
<circle cx="529.70" cy="302.05" r="0.80" fill="none" stroke="#444" stroke-width="0.7"/>
<text class="cadb" x="437.20" y="293.70" font-size="15.5" textLength="66.61" lengthAdjust="spacingAndGlyphs" >ø1.80±0.05</text>
<path d="M503.5,288.2 H515.5 L527.5,299.9" fill="none" stroke="#1c1c1c" stroke-width="1.2" />
<polygon points="527.90,300.30 523.20,293.30 520.80,295.70" fill="#1c1c1c" stroke="none" stroke-width="1"/>
<line x1="553.30" y1="282.70" x2="553.30" y2="295.60" stroke="#1c1c1c" stroke-width="1.2" />
<line x1="565.20" y1="282.70" x2="565.20" y2="295.60" stroke="#1c1c1c" stroke-width="1.2" />
<polygon points="553.30,286.10 544.70,284.45 544.70,287.75" fill="#1c1c1c" stroke="none" stroke-width="1"/>
<line x1="535.70" y1="286.10" x2="545.70" y2="286.10" stroke="#1c1c1c" stroke-width="1.2" />
<polygon points="565.20,286.10 573.80,284.45 573.80,287.75" fill="#1c1c1c" stroke="none" stroke-width="1"/>
<line x1="572.80" y1="286.10" x2="582.80" y2="286.10" stroke="#1c1c1c" stroke-width="1.2" />
<text class="cadb" x="584.30" y="291.90" font-size="15.5" textLength="52.41" lengthAdjust="spacingAndGlyphs" >4.2±0.05</text>
<line x1="667.50" y1="302.00" x2="680.80" y2="302.00" stroke="#1c1c1c" stroke-width="1.2" />
<line x1="667.50" y1="317.80" x2="680.80" y2="317.80" stroke="#1c1c1c" stroke-width="1.2" />
<polygon points="677.70,302.00 676.05,293.40 679.35,293.40" fill="#1c1c1c" stroke="none" stroke-width="1"/>
<line x1="677.70" y1="285.20" x2="677.70" y2="294.40" stroke="#1c1c1c" stroke-width="1.2" />
<line x1="677.10" y1="285.50" x2="686.30" y2="285.50" stroke="#1c1c1c" stroke-width="1.2" />
<polygon points="677.70,317.80 676.05,326.40 679.35,326.40" fill="#1c1c1c" stroke="none" stroke-width="1"/>
<line x1="677.70" y1="325.40" x2="677.70" y2="334.90" stroke="#1c1c1c" stroke-width="1.2" />
<text class="cadb" x="686.70" y="291.40" font-size="15.5" textLength="52.41" lengthAdjust="spacingAndGlyphs" >5.5±0.05</text>
<text class="cadb" y="352.70" font-size="14.6"><tspan x="528.60" textLength="10.67" lengthAdjust="spacingAndGlyphs">P.</tspan> <tspan x="547.00" textLength="10.07" lengthAdjust="spacingAndGlyphs">C.</tspan> <tspan x="564.32" textLength="7.86" lengthAdjust="spacingAndGlyphs">B</tspan> <tspan x="579.23" textLength="4.06" lengthAdjust="spacingAndGlyphs">.</tspan> <tspan x="590.70" textLength="22.47" lengthAdjust="spacingAndGlyphs">hole</tspan> <tspan x="621.20" textLength="62.77" lengthAdjust="spacingAndGlyphs">dimensions</tspan></text>
<path d="M717.1,205.2 H744.2 V241.3 H717.1 Z" fill="#fff" stroke="#1c1c1c" stroke-width="1.4" />
<path d="M717.1,205.2 L712.9,212.9 Q712.5,214 713.7,214 H717.1" fill="#fff" stroke="#1c1c1c" stroke-width="1.2" stroke-linejoin="round"/>
<line x1="745.10" y1="170.00" x2="745.10" y2="203.60" stroke="#1c1c1c" stroke-width="2.0" />
<line x1="745.50" y1="210.70" x2="745.50" y2="241.90" stroke="#1c1c1c" stroke-width="1.6" />
<path d="M735.2,241.5 Q735.6,246.0 740,246.0 H754.1 Q755.8,246.0 755.8,244.4 Q755.8,242.8 754.1,242.8 H741.0" fill="#fff" stroke="#1c1c1c" stroke-width="1.35" />
<line x1="753.20" y1="243.00" x2="753.20" y2="245.80" stroke="#555" stroke-width="0.7" />
<path d="M722.7,241.5 V257 Q722.7,261.9 727.6,261.9 H754.1 Q755.8,261.9 755.8,260.3 Q755.8,258.7 754.1,258.7 H728.6 Q726.2,258.7 726.2,256.3 V241.5" fill="#fff" stroke="#1c1c1c" stroke-width="1.35" />
<line x1="753.20" y1="258.90" x2="753.20" y2="261.70" stroke="#555" stroke-width="0.7" />
<text class="cadb" x="677.90" y="165.30" font-size="15.5" textLength="27.01" lengthAdjust="spacingAndGlyphs" >9.60</text>
<line x1="708.60" y1="160.70" x2="744.40" y2="160.70" stroke="#1c1c1c" stroke-width="1.2" />
<line x1="717.20" y1="157.60" x2="717.20" y2="198.20" stroke="#1c1c1c" stroke-width="1.2" />
<line x1="744.40" y1="157.60" x2="744.40" y2="172.00" stroke="#1c1c1c" stroke-width="1.2" />
<polygon points="717.20,160.70 725.80,159.05 725.80,162.35" fill="#1c1c1c" stroke="none" stroke-width="1"/>
<polygon points="744.40,160.70 735.80,159.05 735.80,162.35" fill="#1c1c1c" stroke="none" stroke-width="1"/>
<polygon points="743.90,173.10 735.30,171.45 735.30,174.75" fill="#1c1c1c" stroke="none" stroke-width="1"/>
<line x1="726.80" y1="173.10" x2="736.30" y2="173.10" stroke="#1c1c1c" stroke-width="1.2" />
<polygon points="746.20,173.10 754.80,171.45 754.80,174.75" fill="#1c1c1c" stroke="none" stroke-width="1"/>
<line x1="753.80" y1="173.10" x2="762.80" y2="173.10" stroke="#1c1c1c" stroke-width="1.2" />
<text class="cadb" x="764.10" y="178.60" font-size="15.5" textLength="26.31" lengthAdjust="spacingAndGlyphs" >0.40</text>
<text class="cadb" x="670.80" y="187.90" font-size="15.5" textLength="24.61" lengthAdjust="spacingAndGlyphs" >1.40</text>
<line x1="713.40" y1="179.60" x2="713.40" y2="204.40" stroke="#1c1c1c" stroke-width="1.2" />
<polygon points="713.20,182.80 704.60,181.15 704.60,184.45" fill="#1c1c1c" stroke="none" stroke-width="1"/>
<line x1="695.80" y1="182.80" x2="705.60" y2="182.80" stroke="#1c1c1c" stroke-width="1.2" />
<polygon points="717.40,182.80 726.00,181.15 726.00,184.45" fill="#1c1c1c" stroke="none" stroke-width="1"/>
<line x1="725.00" y1="182.80" x2="734.30" y2="182.80" stroke="#1c1c1c" stroke-width="1.2" />
<polygon points="744.20,201.40 735.60,199.75 735.60,203.05" fill="#1c1c1c" stroke="none" stroke-width="1"/>
<line x1="728.60" y1="201.40" x2="736.60" y2="201.40" stroke="#1c1c1c" stroke-width="1.2" />
<line x1="755.50" y1="198.40" x2="755.50" y2="236.90" stroke="#1c1c1c" stroke-width="1.2" />
<polygon points="755.80,201.40 764.40,199.75 764.40,203.05" fill="#1c1c1c" stroke="none" stroke-width="1"/>
<line x1="763.40" y1="201.40" x2="772.90" y2="201.40" stroke="#1c1c1c" stroke-width="1.2" />
<text class="cadb" x="774.40" y="206.90" font-size="15.5" textLength="26.81" lengthAdjust="spacingAndGlyphs" >3.50</text>
<line x1="762.00" y1="244.40" x2="776.00" y2="244.40" stroke="#1c1c1c" stroke-width="1.2" />
<line x1="762.00" y1="260.10" x2="776.00" y2="260.10" stroke="#1c1c1c" stroke-width="1.2" />
<polygon points="773.00,244.40 771.35,235.80 774.65,235.80" fill="#1c1c1c" stroke="none" stroke-width="1"/>
<line x1="773.00" y1="227.50" x2="773.00" y2="236.80" stroke="#1c1c1c" stroke-width="1.2" />
<line x1="772.40" y1="227.70" x2="781.90" y2="227.70" stroke="#1c1c1c" stroke-width="1.2" />
<polygon points="773.00,260.10 771.35,268.70 774.65,268.70" fill="#1c1c1c" stroke="none" stroke-width="1"/>
<line x1="773.00" y1="267.70" x2="773.00" y2="277.90" stroke="#1c1c1c" stroke-width="1.2" />
<text class="cadb" x="783.10" y="233.20" font-size="15.5" textLength="26.31" lengthAdjust="spacingAndGlyphs" >5.50</text>
<line x1="499.00" y1="499.30" x2="901.05" y2="499.30" stroke="#1c1c1c" stroke-width="1.2" />
<line x1="499.00" y1="499.30" x2="499.00" y2="623.30" stroke="#1c1c1c" stroke-width="1.2" />
<rect x="498.80" y="499.30" width="77.80" height="46.10" fill="none" stroke="#1c1c1c" stroke-width="1.2"/>
<rect x="501.20" y="502.30" width="72.90" height="40.80" fill="none" stroke="#1c1c1c" stroke-width="2.0"/>
<line x1="576.50" y1="545.80" x2="901.05" y2="545.80" stroke="#1c1c1c" stroke-width="1.2" />
<line x1="576.50" y1="545.60" x2="576.50" y2="623.30" stroke="#1c1c1c" stroke-width="1.2" />
<line x1="631.70" y1="545.80" x2="631.70" y2="623.30" stroke="#1c1c1c" stroke-width="1.2" />
<line x1="686.80" y1="545.80" x2="686.80" y2="623.30" stroke="#1c1c1c" stroke-width="1.2" />
<line x1="499.00" y1="571.40" x2="576.50" y2="571.40" stroke="#1c1c1c" stroke-width="1.2" />
<line x1="499.00" y1="597.20" x2="576.50" y2="597.20" stroke="#1c1c1c" stroke-width="1.2" />
<line x1="576.50" y1="565.00" x2="631.70" y2="565.00" stroke="#1c1c1c" stroke-width="1.2" />
<line x1="576.50" y1="584.40" x2="686.80" y2="584.40" stroke="#1c1c1c" stroke-width="1.2" />
<line x1="576.50" y1="603.60" x2="686.80" y2="603.60" stroke="#1c1c1c" stroke-width="1.2" />
<line x1="686.80" y1="594.80" x2="901.05" y2="594.80" stroke="#1c1c1c" stroke-width="1.2" />
<text class="rohs" x="537.60" y="518.20" font-size="15.8" text-anchor="middle" textLength="38.60" lengthAdjust="spacingAndGlyphs" >RoHS</text>
<text class="rohs" x="537.40" y="535.20" font-size="15.8" text-anchor="middle" textLength="66.20" lengthAdjust="spacingAndGlyphs" >Compliant</text>
<text class="co" y="532"><tspan x="581.7" textLength="47.7" lengthAdjust="spacingAndGlyphs"><tspan font-size="31">G</tspan>old</tspan> <tspan x="638.4" textLength="41.4" lengthAdjust="spacingAndGlyphs"><tspan font-size="31">S</tspan>tar</tspan> <tspan x="689.8" textLength="111.7" lengthAdjust="spacingAndGlyphs"><tspan font-size="31">C</tspan>onnectors</tspan> <tspan x="811" textLength="37.2" lengthAdjust="spacingAndGlyphs"><tspan font-size="31">C</tspan>o.,</tspan> <tspan x="859.7" textLength="35.3" lengthAdjust="spacingAndGlyphs"><tspan font-size="31">L</tspan>td.</tspan></text>
<text class="sm" x="500.50" y="553.80" font-size="6.8" textLength="16.20" lengthAdjust="spacingAndGlyphs" >APPD.</text>
<text class="cjk" x="500.50" y="560.40" font-size="5" textLength="15.50" lengthAdjust="spacingAndGlyphs" >核 准</text>
<text class="hand" x="523.60" y="562.70" font-size="14.2" textLength="32.20" lengthAdjust="spacingAndGlyphs" >Hedy</text>
<text class="sm" x="500.50" y="578.90" font-size="6.8" textLength="14.50" lengthAdjust="spacingAndGlyphs" >DWG.</text>
<text class="cjk" x="500.50" y="585.80" font-size="5" textLength="15.50" lengthAdjust="spacingAndGlyphs" >製 圖</text>
<text class="hand" x="522.20" y="589.80" font-size="14.2" textLength="32.20" lengthAdjust="spacingAndGlyphs" >Hedy</text>
<text class="sm" x="500.50" y="605.00" font-size="6.8" textLength="13.10" lengthAdjust="spacingAndGlyphs" >DATE</text>
<text class="cjk" x="519.80" y="605.00" font-size="5" textLength="18.10" lengthAdjust="spacingAndGlyphs" >制表日</text>
<text class="hand" x="503.50" y="618.10" font-size="12.6" textLength="64.70" lengthAdjust="spacingAndGlyphs" >2012/02/23</text>
<circle cx="590.40" cy="556.20" r="6.10" fill="none" stroke="#1c1c1c" stroke-width="1.15"/>
<circle cx="590.40" cy="556.20" r="3.30" fill="none" stroke="#1c1c1c" stroke-width="1.15"/>
<line x1="582.40" y1="556.20" x2="598.00" y2="556.20" stroke="#1c1c1c" stroke-width="0.9" />
<line x1="590.40" y1="548.80" x2="590.40" y2="563.60" stroke="#1c1c1c" stroke-width="0.9" />
<path d="M603,552.7 L619.3,549 V562.8 L603,559.4 Z" fill="none" stroke="#1c1c1c" stroke-width="1.15" />
<line x1="600.30" y1="556.20" x2="622.60" y2="556.20" stroke="#1c1c1c" stroke-width="0.9" />
<text class="sm" x="578.00" y="571.70" font-size="6.8" textLength="17.50" lengthAdjust="spacingAndGlyphs" >SCALE</text>
<text class="cjk" x="578.00" y="578.10" font-size="5" textLength="16.00" lengthAdjust="spacingAndGlyphs" >比 例</text>
<text class="cjk2" x="610.90" y="582.20" font-size="8" text-anchor="middle" >參</text>
<text class="cjk2" x="624.00" y="582.20" font-size="8" text-anchor="middle" >考</text>
<text class="sm" x="578.00" y="591.00" font-size="6.8" textLength="12.00" lengthAdjust="spacingAndGlyphs" >UNIT</text>
<text class="cjk" x="578.00" y="597.40" font-size="5" textLength="16.00" lengthAdjust="spacingAndGlyphs" >單 位</text>
<text class="ar" x="608.80" y="601.30" font-size="8.4" textLength="14.20" lengthAdjust="spacingAndGlyphs" stroke="#000" stroke-width="0.2" >M M</text>
<text class="sm" x="578.00" y="610.20" font-size="6.8" textLength="14.70" lengthAdjust="spacingAndGlyphs" >PAGE</text>
<text class="cjk" x="578.00" y="616.60" font-size="5" textLength="16.00" lengthAdjust="spacingAndGlyphs" >張 數</text>
<text class="ar" x="603.70" y="620.60" font-size="8.4" textLength="17.30" lengthAdjust="spacingAndGlyphs" stroke="#000" stroke-width="0.2" >1 / 1</text>
<text class="tiny" x="633.80" y="550.00" font-size="4.4" textLength="35.80" lengthAdjust="spacingAndGlyphs" >UNLESS OTHERWISE</text>
<text class="tiny" x="633.80" y="556.80" font-size="4.4" textLength="40.40" lengthAdjust="spacingAndGlyphs" >SPECIFIED TOLERANCE</text>
<text class="tiny" x="634.10" y="564.90" font-size="4.6" textLength="7.70" lengthAdjust="spacingAndGlyphs" >.000</text>
<text class="tiny" x="645.70" y="564.90" font-size="4.6" text-anchor="middle" >±</text>
<text class="tiny" x="649.20" y="564.90" font-size="4.6" textLength="8.40" lengthAdjust="spacingAndGlyphs" >0.08</text>
<text class="tiny" x="660.80" y="564.90" font-size="4.6" text-anchor="middle" >(</text>
<text class="tiny" x="664.30" y="564.90" font-size="4.6" textLength="6.90" lengthAdjust="spacingAndGlyphs" >mm</text>
<text class="tiny" x="675.00" y="564.90" font-size="4.6" text-anchor="middle" >)</text>
<text class="tiny" x="634.10" y="573.60" font-size="4.6" textLength="5.80" lengthAdjust="spacingAndGlyphs" >.00</text>
<text class="tiny" x="645.70" y="573.60" font-size="4.6" text-anchor="middle" >±</text>
<text class="tiny" x="649.20" y="573.60" font-size="4.6" textLength="8.40" lengthAdjust="spacingAndGlyphs" >0.25</text>
<text class="tiny" x="660.80" y="573.60" font-size="4.6" text-anchor="middle" >(</text>
<text class="tiny" x="664.30" y="573.60" font-size="4.6" textLength="6.90" lengthAdjust="spacingAndGlyphs" >mm</text>
<text class="tiny" x="675.00" y="573.60" font-size="4.6" text-anchor="middle" >)</text>
<text class="tiny" x="634.10" y="581.90" font-size="4.6" textLength="3.60" lengthAdjust="spacingAndGlyphs" >.0</text>
<text class="tiny" x="645.70" y="581.90" font-size="4.6" text-anchor="middle" >±</text>
<text class="tiny" x="649.20" y="581.90" font-size="4.6" textLength="8.40" lengthAdjust="spacingAndGlyphs" >0.40</text>
<text class="tiny" x="660.80" y="581.90" font-size="4.6" text-anchor="middle" >(</text>
<text class="tiny" x="664.30" y="581.90" font-size="4.6" textLength="6.90" lengthAdjust="spacingAndGlyphs" >mm</text>
<text class="tiny" x="675.00" y="581.90" font-size="4.6" text-anchor="middle" >)</text>
<text class="sm" x="633.60" y="591.00" font-size="6.8" textLength="13.40" lengthAdjust="spacingAndGlyphs" >SIZE.</text>
<text class="cjk" x="633.60" y="597.40" font-size="6" textLength="25.20" lengthAdjust="spacingAndGlyphs" >紙張尺寸</text>
<text class="ar" x="665.30" y="600.60" font-size="9.8" textLength="12.70" lengthAdjust="spacingAndGlyphs" stroke="#000" stroke-width="0.2" >A 4</text>
<text class="sm" x="633.60" y="610.20" font-size="6.8" textLength="12.10" lengthAdjust="spacingAndGlyphs" >REV.</text>
<text class="cjk" x="633.60" y="616.60" font-size="5" textLength="16.00" lengthAdjust="spacingAndGlyphs" >版 次</text>
<text class="ar" x="665.70" y="621.00" font-size="9.8" textLength="6.30" lengthAdjust="spacingAndGlyphs" stroke="#000" stroke-width="0.2" >A</text>
<text class="ar" x="689.30" y="555.80" font-size="10.6" textLength="51.10" lengthAdjust="spacingAndGlyphs" >PART NAME</text>
<text class="cjk2" x="756.20" y="555.60" font-size="8.4" text-anchor="middle" >品</text>
<text class="cjk2" x="778.00" y="555.60" font-size="8.4" text-anchor="middle" >名</text>
<text class="ar" x="705.60" y="572.40" font-size="13" textLength="173.70" lengthAdjust="spacingAndGlyphs" >4.2mm WAFER RIGHT ANGLE</text>
<text class="ar" x="692.20" y="587.50" font-size="13" textLength="202.20" lengthAdjust="spacingAndGlyphs" >TIN PLATED WHITE COLOR ROHS</text>
<text class="ar" x="689.30" y="604.60" font-size="10.6" textLength="41.40" lengthAdjust="spacingAndGlyphs" >PART NO.</text>
<text class="cjk2" x="694.60" y="616.60" font-size="9.6" text-anchor="middle" >料</text>
<text class="cjk2" x="717.40" y="616.60" font-size="9.6" text-anchor="middle" >號</text>
<text class="ar" x="750.70" y="615.00" font-size="12.4" textLength="84.80" lengthAdjust="spacingAndGlyphs" >NCWD420-xxR</text>
</svg>
</body>
</html>
